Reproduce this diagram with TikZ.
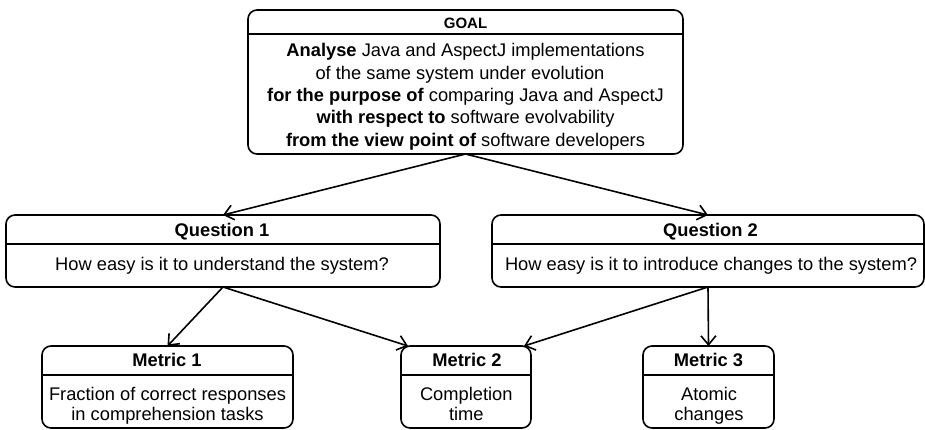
\documentclass[tikz,border=0pt]{standalone}
\usepackage{fontspec}
\setmainfont{Liberation Sans}
\usetikzlibrary{arrows.meta,calc}
\begin{document}
\begin{tikzpicture}[x=1pt,y=-1pt,
  box/.style={draw, line width=1.6pt, rounded corners=9pt, inner sep=0pt, outer sep=0pt, anchor=north west},
  div/.style={line width=1.4pt},
  hd/.style={font=\fontsize{18.3}{21}\selectfont\bfseries, anchor=base, inner sep=0pt},
  tx/.style={font=\fontsize{18.3}{21}\selectfont, anchor=base, inner sep=0pt},
  arr/.style={line width=1.6pt, -{Straight Barb[length=9pt,width=15pt]}}]
\useasboundingbox (0,0) rectangle (925,429);
% boxes
\node[box, minimum width=435pt, minimum height=144pt] (goal) at (248,10) {};
\node[box, minimum width=434pt, minimum height=72pt] (q1) at (6,215) {};
\node[box, minimum width=432pt, minimum height=72pt] (q2) at (492,215) {};
\node[box, minimum width=251pt, minimum height=82pt] (m1) at (42,346) {};
\node[box, minimum width=130pt, minimum height=82pt] (m2) at (401,346) {};
\node[box, minimum width=131pt, minimum height=82pt] (m3) at (643,346) {};
% dividers
\draw[div] ($(goal.north west)+(0,24)$) -- ($(goal.north east)+(0,24)$);
\draw[div] ($(q1.north west)+(0,29)$) -- ($(q1.north east)+(0,29)$);
\draw[div] ($(q2.north west)+(0,29)$) -- ($(q2.north east)+(0,29)$);
\draw[div] ($(m1.north west)+(0,29)$) -- ($(m1.north east)+(0,29)$);
\draw[div] ($(m2.north west)+(0,29)$) -- ($(m2.north east)+(0,29)$);
\draw[div] ($(m3.north west)+(0,29)$) -- ($(m3.north east)+(0,29)$);
% goal text
\node[hd, font=\fontsize{15}{18}\selectfont\bfseries] (gt) at (465.5,28.3) {GOAL};
\node[tx] (g1) at (465.5,56.7) {\textbf{Analyse} Java and AspectJ implementations};
\node[tx] (g2) at (460,79) {of the same system under evolution};
\node[tx] (g3) at (465.5,101.3) {\textbf{for the purpose of} comparing Java and AspectJ};
\node[tx] (g4) at (465.5,123.6) {\textbf{with respect to} software evolvability};
\node[tx] (g5) at (465.5,146) {\textbf{from the view point of} software developers};
% questions
\node[hd] (q1h) at (222,236.5) {Question 1};
\node[tx] (q1b) at (222,270.5) {How easy is it to understand the system?};
\node[hd] (q2h) at (710.5,236.5) {Question 2};
\node[tx] (q2b) at (711,270.5) {How easy is it to introduce changes to the system?};
% metrics
\node[hd] (m1h) at (167,366.5) {Metric 1};
\node[tx] (m1a) at (167.5,400.5) {Fraction of correct responses};
\node[tx] (m1b) at (167.5,420.5) {in comprehension tasks};
\node[hd] (m2h) at (467,366.5) {Metric 2};
\node[tx] (m2a) at (466.3,400.5) {Completion};
\node[tx] (m2b) at (466.3,420.5) {time};
\node[hd] (m3h) at (708.5,366.5) {Metric 3};
\node[tx] (m3a) at (709,400.5) {Atomic};
\node[tx] (m3b) at (709,420.5) {changes};
% arrows
\draw[arr] (goal.south) -- (q1.north);
\draw[arr] (goal.south) -- (q2.north);
\draw[arr] (q1.south) -- (m1.north);
\draw[arr] (q1.south) -- ($(m2.north west)+(7,0)$);
\draw[arr] (q2.south) -- ($(m2.north east)+(-7,0)$);
\draw[arr] (q2.south) -- (m3.north);
\end{tikzpicture}
\end{document}
